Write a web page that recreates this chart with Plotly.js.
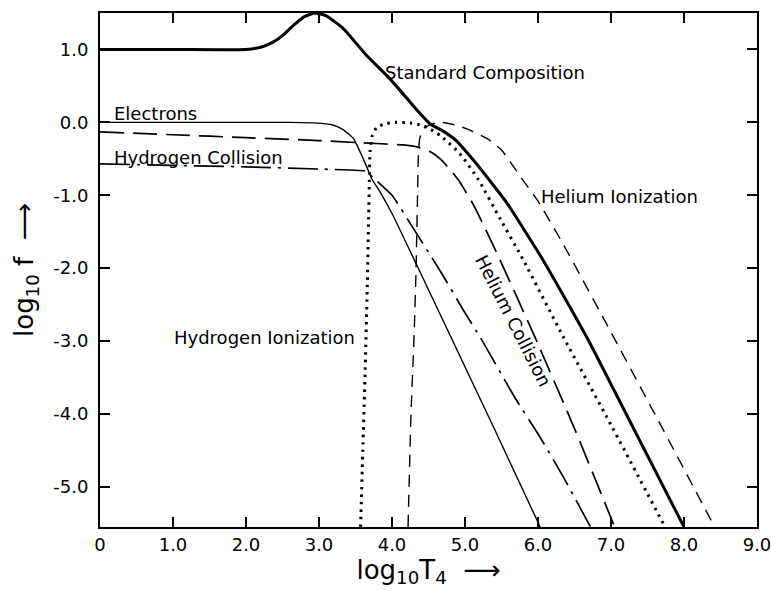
<!DOCTYPE html>
<html>
<head>
<meta charset="utf-8">
<script src="https://cdn.plot.ly/plotly-3.0.1.min.js"></script>
<style>
  html, body { margin: 0; padding: 0; background: #ffffff; }
  #chart { width: 771px; height: 591px; }
</style>
</head>
<body>
<div id="chart"></div>
<script>
// ---- data (x = log10 T4, y = log10 f) ----
const stdX = [0, 1.0, 2.0, 2.2, 2.37, 2.5, 2.65, 2.8, 2.95, 3.1, 3.33, 3.65, 3.97, 4.34, 4.52, 4.7, 4.88, 5.1, 5.34, 5.57, 6.07, 6.67, 7.3, 8.0];
const stdY = [1.0, 1.0, 1.0, 1.03, 1.10, 1.19, 1.33, 1.45, 1.5, 1.46, 1.29, 0.92, 0.6, 0.17, -0.02, -0.12, -0.25, -0.5, -0.8, -1.1, -1.89, -2.95, -4.18, -5.55];

const elecX = [0, 1, 2, 2.6, 3.0, 3.2, 3.33, 3.47, 3.56, 3.65, 3.72, 3.84, 4.0, 4.44, 4.8, 5.4, 6.03];
const elecY = [0, 0, 0, 0, -0.01, -0.04, -0.1, -0.22, -0.4, -0.6, -0.77, -0.96, -1.25, -2.17, -2.93, -4.2, -5.55];

const heCollX = [0, 1, 2, 3, 3.56, 4.15, 4.35, 4.52, 4.66, 4.79, 4.93, 5.11, 5.21, 5.43, 5.96, 6.5, 7.05];
const heCollY = [-0.13, -0.17, -0.21, -0.25, -0.28, -0.31, -0.34, -0.40, -0.5, -0.64, -0.82, -1.12, -1.32, -1.78, -2.95, -4.2, -5.55];

const hCollX = [0, 1, 2, 3, 3.65, 3.7, 4.0, 4.29, 4.68, 4.98, 5.21, 5.68, 6.03, 6.35, 6.72];
const hCollY = [-0.57, -0.59, -0.61, -0.64, -0.67, -0.72, -1.0, -1.45, -2.07, -2.58, -2.95, -3.77, -4.32, -4.87, -5.55];

const heIonX = [4.22, 4.26, 4.30, 4.33, 4.35, 4.36, 4.38, 4.44, 4.55, 4.68, 4.84, 5.0, 5.3, 5.5, 5.77, 6.0, 6.35, 6.85, 7.6, 8.42];
const heIonY = [-5.55, -4.0, -3.0, -2.0, -1.0, -0.5, -0.22, -0.08, -0.02, 0.0, -0.03, -0.08, -0.22, -0.38, -0.76, -1.08, -1.68, -2.6, -4.0, -5.55];

const hIonX = [3.57, 3.60, 3.63, 3.66, 3.68, 3.69, 3.70, 3.73, 3.79, 3.9, 4.05, 4.25, 4.41, 4.5, 4.66, 4.93, 5.18, 5.48, 5.80, 6.35, 7.0, 7.74];
const hIonY = [-5.55, -4.5, -3.5, -2.3, -1.3, -0.8, -0.4, -0.18, -0.07, -0.02, 0.0, -0.01, -0.04, -0.08, -0.18, -0.43, -0.78, -1.32, -1.89, -2.95, -4.15, -5.55];

const xTickVals = [0, 1, 2, 3, 4, 5, 6, 7, 8, 9];
const xTickText = ["0", "1.0", "2.0", "3.0", "4.0", "5.0", "6.0", "7.0", "8.0", "9.0"];
const yTickVals = [1, 0, -1, -2, -3, -4, -5];
const yTickText = ["1.0", "0.0", "-1.0", "-2.0", "-3.0", "-4.0", "-5.0"];

const labelText = ["Standard Composition", "Electrons", "Hydrogen Collision", "Helium Ionization", "Hydrogen Ionization", "Helium Collision"];
const labelX = [3.88, 0.17, 0.17, 6.02, 0.98, 5.66];
const labelY = [0.68, 0.12, -0.48, -1.02, -2.95, -2.72];

const FONT = "DejaVu Sans, Liberation Sans, sans-serif";

const traces = [
  {x: stdX, y: stdY, name: "Standard Composition", mode: "lines",
   line: {color: "#000", width: 3, shape: "spline", smoothing: 0.5}},
  {x: elecX, y: elecY, name: "Electrons", mode: "lines",
   line: {color: "#000", width: 1.4, shape: "spline", smoothing: 0.5}},
  {x: heCollX, y: heCollY, name: "Helium Collision", mode: "lines",
   line: {color: "#000", width: 1.7, dash: "24px,9px", shape: "spline", smoothing: 0.5}},
  {x: hCollX, y: hCollY, name: "Hydrogen Collision", mode: "lines",
   line: {color: "#000", width: 1.7, dash: "30px,7px,3px,7px", shape: "spline", smoothing: 0.4}},
  {x: heIonX, y: heIonY, name: "Helium Ionization", mode: "lines",
   line: {color: "#000", width: 1.4, dash: "12px,8px", shape: "spline", smoothing: 0.5}},
  {x: hIonX, y: hIonY, name: "Hydrogen Ionization", mode: "lines",
   line: {color: "#000", width: 3, dash: "2.5px,5px", shape: "spline", smoothing: 0.5}}
];

const annotations = labelText.map((t, i) => ({
  x: labelX[i], y: labelY[i], xref: "x", yref: "y",
  text: t, showarrow: false,
  xanchor: i === 5 ? "center" : "left", yanchor: "middle",
  textangle: i === 5 ? 63 : 0,
  font: {family: FONT, size: 18, color: "#000"}
}));

const layout = {
  width: 771, height: 591,
  margin: {l: 100, r: 14, t: 13, b: 64},
  paper_bgcolor: "#ffffff", plot_bgcolor: "#ffffff",
  showlegend: false,
  hovermode: false,
  font: {family: FONT, color: "#000"},
  xaxis: {
    range: [0, 9], tickvals: xTickVals, ticktext: xTickText,
    ticks: "inside", ticklen: 10, tickwidth: 1.5, tickcolor: "#000",
    showline: true, linewidth: 2, linecolor: "#000", mirror: "ticks",
    showgrid: false, zeroline: false, fixedrange: true,
    ticklabeloverflow: "allow",
    tickfont: {family: FONT, size: 18, color: "#000"},
    title: {text: "log<sub>10</sub>T<sub>4</sub>  \u27f6", font: {family: FONT, size: 26, color: "#000"}, standoff: 6}
  },
  yaxis: {
    range: [-5.55, 1.5], tickvals: yTickVals, ticktext: yTickText,
    ticks: "inside", ticklen: 10, tickwidth: 1.5, tickcolor: "#000",
    showline: true, linewidth: 2, linecolor: "#000", mirror: "ticks",
    showgrid: false, zeroline: false, fixedrange: true,
    ticklabelstandoff: 6,
    tickfont: {family: FONT, size: 18, color: "#000"},
    title: {text: "log<sub>10</sub> f  \u27f6\u00a0\u00a0\u00a0", font: {family: FONT, size: 26, color: "#000"}, standoff: 12}
  },
  annotations: annotations
};

Plotly.newPlot("chart", traces, layout, {displayModeBar: false});
</script>
</body>
</html>
